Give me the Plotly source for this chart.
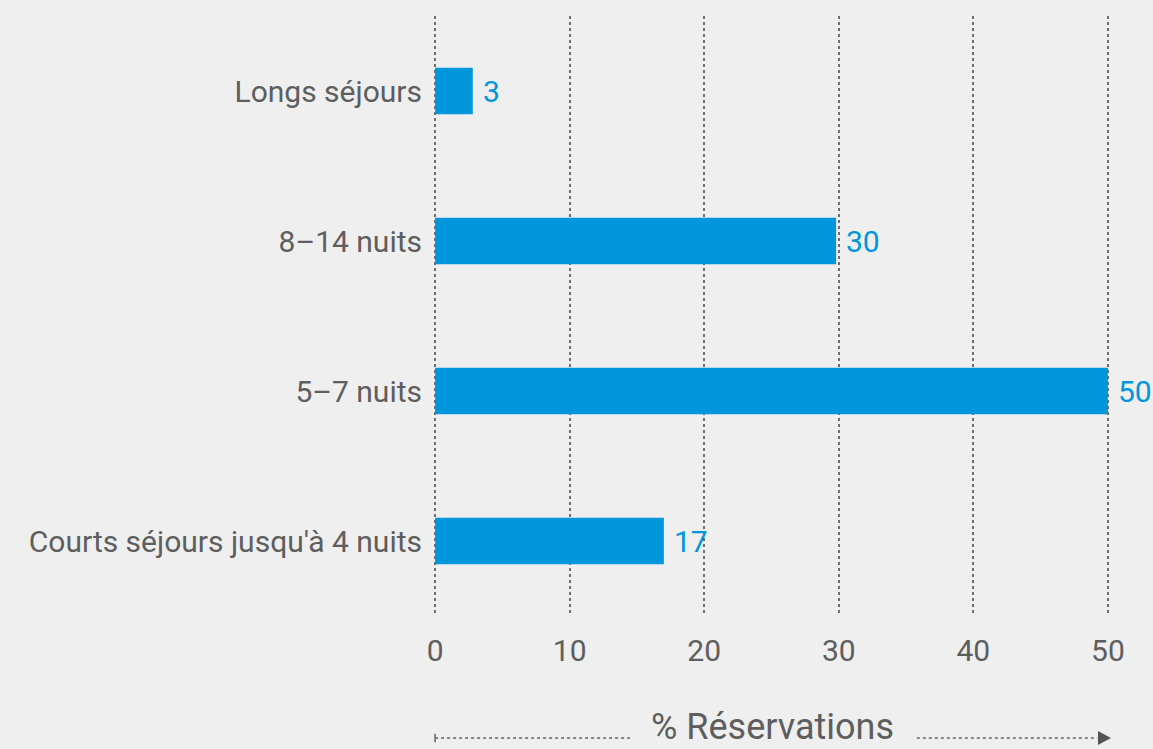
import plotly.graph_objects as go

categories = ["Courts séjours jusqu'à 4 nuits", "5–7 nuits", "8–14 nuits", "Longs séjours"]
values = [17.0, 50.0, 29.8, 2.8]
labels = ["17", "50", "30", "3"]
x_ticks = [0, 10, 20, 30, 40, 50]
axis_title = "% Réservations"

BG = "#efefef"
BLUE = "#0096db"
GREY = "#5e5e5e"
FONT = "Roboto, Arial, sans-serif"

fig = go.Figure()
fig.add_trace(go.Bar(
    y=categories, x=values, orientation="h",
    marker=dict(color=BLUE, line=dict(width=0)),
    width=0.31,
    hoverinfo="skip",
))

for c, v, t in zip(categories, values, labels):
    fig.add_annotation(x=v, y=c, xref="x", yref="y", text=t, showarrow=False,
                       xanchor="left", yanchor="middle", xshift=8,
                       font=dict(color=BLUE, size=30, family=FONT))

fig.update_layout(
    width=1153, height=749,
    paper_bgcolor=BG, plot_bgcolor=BG,
    margin=dict(l=434, r=44, t=16, b=133),
    showlegend=False,
    font=dict(family=FONT, color=GREY, size=30),
    xaxis=dict(
        range=[-0.08, 50.08], tickvals=x_ticks, ticktext=[str(v) for v in x_ticks],
        showgrid=True, gridcolor="#6e6e6e", gridwidth=2, griddash="dot",
        zeroline=False, showline=False,
        ticks="outside", ticklen=8, tickcolor="rgba(0,0,0,0)",
        tickfont=dict(size=30, color=GREY, family=FONT),
        fixedrange=True,
    ),
    yaxis=dict(
        categoryorder="array", categoryarray=categories,
        range=[-0.5, 3.5],
        showgrid=False, zeroline=False, showline=False,
        ticks="outside", ticklen=5, tickcolor="rgba(0,0,0,0)",
        tickfont=dict(size=30, color=GREY, family=FONT),
        fixedrange=True,
    ),
)

# axis title with dotted arrow
yl = -0.2033
fig.add_annotation(
    x=0.502, xref="paper", y=-0.2217, yref="paper", text=axis_title, showarrow=False,
    font=dict(size=36, color=GREY, family=FONT), yanchor="bottom", xanchor="center",
    borderpad=0,
)
line_style = dict(color="#666666", width=1.5, dash="dot")
fig.add_shape(type="line", xref="x", yref="paper", x0=0, x1=14.6, y0=yl, y1=yl, line=line_style)
fig.add_shape(type="line", xref="x", yref="paper", x0=35.8, x1=49.2, y0=yl, y1=yl, line=line_style)
fig.add_shape(type="line", xref="x", yref="paper", x0=0, x1=0, y0=yl - 0.007, y1=yl + 0.007,
              line=dict(color="#666666", width=1.5))
fig.add_shape(type="path", xref="paper", yref="paper",
              path=f"M 0.9837 {yl+0.0117} L 1.003 {yl} L 0.9837 {yl-0.0117} Z",
              fillcolor="#555555", line=dict(width=0))

fig.write_html("out.html", config={"displayModeBar": False},
               post_script="document.body.style.margin='0';document.body.style.overflow='hidden';")
